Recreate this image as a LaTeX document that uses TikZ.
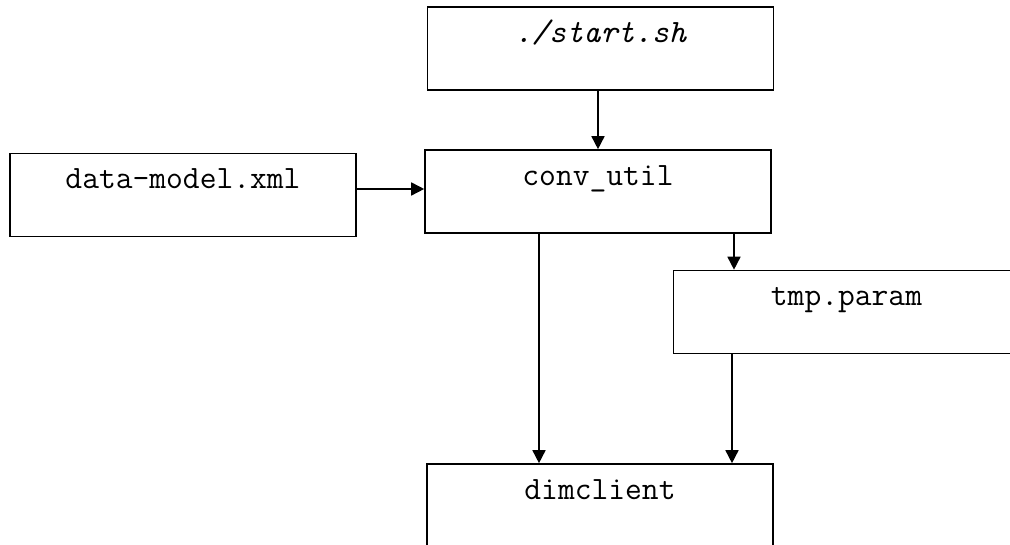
\documentclass[tikz,border=0pt]{standalone}
\usepackage{fontspec}
\usepackage{tikz}
\usetikzlibrary{shapes.geometric, arrows.meta}
\tikzstyle{box} = [rectangle, minimum width=346pt, inner ysep=0pt, text height=35.5pt, text depth=47.5pt, text centered, draw=black, line width=1.6pt, font=\ttfamily\fontsize{32.6}{34}\selectfont]
\tikzstyle{arrow} = [line width=1.6pt,->,>={Triangle[length=13pt,width=13pt]}]

\begin{document}
\begin{tikzpicture}[x=1pt, y=1pt, node distance=143pt]
			\useasboundingbox (0,0) rectangle (1010,545);
			\clip (0,0) rectangle (1010,545);
			\node (start) [box] at (600.5,496.5) {\itshape ./start.sh};
			\node (conv) [box, below of=start, xshift=-2.5pt] {conv\_util};
			\node (data) [box, left of=conv, xshift=-272pt, yshift=-3.5pt] {data-model.xml};
			\node (tmp) [box, below of=conv, xshift=248.5pt, yshift=22.5pt] {tmp.param};
			\node (dim) [box, below of=tmp, xshift=-246.5pt, yshift=-50.5pt] {dimclient};

			\draw [arrow] (conv.north |- start.south) -- (conv.north);
			\draw [arrow] ([yshift=6pt]data.east) -- ([yshift=6pt]data.east -| conv.west);
			\draw [arrow] ([xshift=-59pt]conv.south) -- ([xshift=-59pt]conv.south |- dim.north);
			\draw [arrow] ([xshift=136pt]conv.south) -- ([xshift=136pt]conv.south |- tmp.north);
			\draw [arrow] ([xshift=-114.5pt]tmp.south) -- ([xshift=-114.5pt]tmp.south |- dim.north);
		\end{tikzpicture}
\end{document}
